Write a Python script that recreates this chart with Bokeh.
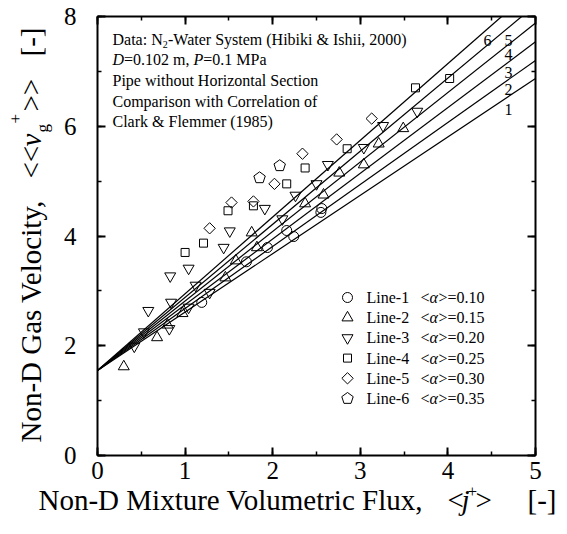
import math
from bokeh.plotting import figure
from bokeh.models import Range1d, SingleIntervalTicker, CustomJSTickFormatter, Label, LinearAxis
from bokeh.embed import file_html
from bokeh.resources import INLINE

# ---------------- data ----------------
line1_x = [1.19, 1.70, 1.94, 2.16, 2.24, 2.55, 2.56]
line1_y = [2.79, 3.53, 3.79, 4.10, 3.99, 4.43, 4.50]

line2_x = [0.30, 0.68, 0.80, 0.97, 1.46, 1.58, 1.76, 1.82, 2.37, 2.58, 2.76, 3.04, 3.21, 3.49]
line2_y = [1.62, 2.15, 2.38, 2.59, 3.24, 3.55, 4.06, 3.79, 4.59, 4.75, 5.15, 5.30, 5.68, 5.96]

line3_x = [0.42, 0.53, 0.58, 0.82, 0.84, 0.83, 1.04, 1.04, 1.12, 1.28, 1.44, 1.51, 1.91, 2.11,
           2.26, 2.50, 2.63, 3.04, 3.26, 3.65]
line3_y = [1.99, 2.25, 2.64, 2.31, 2.79, 3.27, 2.70, 3.41, 3.10, 2.97, 3.79, 4.09, 4.50, 4.31,
           4.74, 4.95, 5.30, 5.61, 6.01, 6.27]

line4_x = [1.00, 1.21, 1.49, 1.78, 2.16, 2.37, 2.85, 3.63, 4.02]
line4_y = [3.70, 3.87, 4.46, 4.55, 4.95, 5.24, 5.59, 6.70, 6.87]

line5_x = [1.28, 1.53, 1.78, 2.02, 2.34, 2.73, 3.13]
line5_y = [4.14, 4.61, 4.63, 4.95, 5.50, 5.76, 6.14]

line6_x = [1.85, 2.08]
line6_y = [5.06, 5.28]

# correlation lines (Clark & Flemmer): value at j+=0 and at j+=5
corr_y_start = 1.55
corr_y_end = [6.87, 7.20, 7.54, 7.88, 8.21, 8.54]
corr_labels = ["1", "2", "3", "4", "5", "6"]

legend_names = ["Line-1", "Line-2", "Line-3", "Line-4", "Line-5", "Line-6"]
legend_alpha = ["0.10", "0.15", "0.20", "0.25", "0.30", "0.35"]

x_lim = (0, 5)
y_lim = (0, 8)

FONT = "Liberation Serif"

# ---------------- geometry: plot box position on the canvas (pixels) ----------------
W, H = 567, 534
BOX_L, BOX_R, BOX_T, BOX_B = 97.0, 535.0, 16.0, 455.0
PXX = (BOX_R - BOX_L) / (x_lim[1] - x_lim[0])
PXY = (BOX_B - BOX_T) / (y_lim[1] - y_lim[0])

x_range = Range1d(x_lim[0] - BOX_L / PXX, x_lim[0] + (W - BOX_L) / PXX)
y_range = Range1d(y_lim[0] - (H - BOX_B) / PXY, y_lim[0] + BOX_B / PXY)

p = figure(width=W, height=H, x_range=x_range, y_range=y_range,
           output_backend="svg", toolbar_location=None, min_border=0)
p.xgrid.visible = False
p.ygrid.visible = False
p.outline_line_color = None
p.background_fill_color = "white"
p.border_fill_color = "white"


def style_axis(ax, show_labels, fixed, bounds, interval):
    ax.ticker = SingleIntervalTicker(interval=interval, num_minor_ticks=2)
    ax.fixed_location = fixed
    ax.bounds = bounds
    ax.axis_line_color = "black"
    ax.axis_line_width = 2
    ax.major_tick_in = 8
    ax.major_tick_out = 0
    ax.minor_tick_in = 4
    ax.minor_tick_out = 0
    ax.major_tick_line_width = 2
    ax.minor_tick_line_width = 1.5
    ax.major_tick_line_color = "black"
    ax.minor_tick_line_color = "black"
    if show_labels:
        ax.major_label_text_font = FONT
        ax.major_label_text_font_size = "25px"
        ax.major_label_text_color = "black"
    else:
        ax.formatter = CustomJSTickFormatter(code="return ''")
        ax.major_label_text_font_size = "0px"
        ax.major_label_standoff = 0


for ax in p.xaxis:
    style_axis(ax, True, y_lim[0], x_lim, 1)
    ax.major_label_standoff = 6
for ax in p.yaxis:
    style_axis(ax, True, x_lim[0], y_lim, 2)
    ax.major_label_standoff = 21

top_ax = LinearAxis()
style_axis(top_ax, False, y_lim[1], x_lim, 1)
p.add_layout(top_ax, "above")
right_ax = LinearAxis()
style_axis(right_ax, False, x_lim[1], y_lim, 2)
p.add_layout(right_ax, "right")

# ---------------- correlation lines (cut at the plot box) ----------------
for ye in corr_y_end:
    slope = (ye - corr_y_start) / (x_lim[1] - x_lim[0])
    x_end = min(x_lim[1], (y_lim[1] - corr_y_start) / slope)
    p.line([x_lim[0], x_end], [corr_y_start, corr_y_start + slope * x_end],
           line_color="black", line_width=1.2)

# ---------------- data points ----------------
mk = dict(fill_color=None, line_color="black", line_width=1)


def pentagons(xs, ys, r=6.0):
    pxs, pys = [], []
    for x, y in zip(xs, ys):
        angs = [math.radians(90 + 72 * k) for k in range(5)]
        pxs.append([x + r * math.cos(a) / PXX for a in angs])
        pys.append([y + r * math.sin(a) / PXY for a in angs])
    p.patches(pxs, pys, **mk)


p.scatter(line1_x, line1_y, marker="circle", size=10, **mk)
p.scatter(line2_x, line2_y, marker="triangle", size=11, **mk)
p.scatter(line3_x, line3_y, marker="inverted_triangle", size=11, **mk)
p.scatter(line4_x, line4_y, marker="square", size=8, **mk)
p.scatter(line5_x, line5_y, marker="square", size=8, angle=math.pi / 4, **mk)
pentagons(line6_x, line6_y)


# ---------------- helpers for text placement (canvas pixel -> data) ----------------
def dx(px):
    return x_lim[0] + (px - BOX_L) / PXX


def dy(py):
    return y_lim[0] + (BOX_B - py) / PXY


def lab(text, px, py, size="16px", style="normal", align="left", baseline="middle", angle=0.0):
    p.add_layout(Label(x=dx(px), y=dy(py), text=text, text_font=FONT, text_font_size=size,
                       text_font_style=style, text_align=align, text_baseline=baseline,
                       text_color="black", angle=angle))


# annotation block
rows_a = [38.5, 59, 79.5, 100.5, 121]
lab("Data: N", 112, rows_a[0])
lab("2", 162.3, rows_a[0] + 5, size="10px")
lab("-Water System (Hibiki & Ishii, 2000)", 167.5, rows_a[0])
lab("D", 112, rows_a[1], style="italic")
lab("=0.102 m, ", 123.6, rows_a[1])
lab("P", 193.0, rows_a[1], style="italic")
lab("=0.1 MPa", 202.8, rows_a[1])
lab("Pipe without Horizontal Section", 112, rows_a[2])
lab("Comparison with Correlation of", 112, rows_a[3])
lab("Clark & Flemmer (1985)", 112, rows_a[4])

# line labels
corr_label_pos = [(508, 109), (508, 89), (508, 72), (508, 54), (508, 40), (487, 40)]
for t, (px, py) in zip(corr_labels, corr_label_pos):
    lab(t, px, py, align="center")

# legend
rows = [297, 317.2, 337.4, 357.6, 377.8, 398]
for i, (name, a) in enumerate(zip(legend_names, legend_alpha)):
    mx, my = [dx(347)], [dy(rows[i])]
    if i == 0:
        p.scatter(mx, my, marker="circle", size=10, **mk)
    elif i == 1:
        p.scatter(mx, my, marker="triangle", size=11, **mk)
    elif i == 2:
        p.scatter(mx, my, marker="inverted_triangle", size=11, **mk)
    elif i == 3:
        p.scatter(mx, my, marker="square", size=8, **mk)
    elif i == 4:
        p.scatter(mx, my, marker="square", size=8, angle=math.pi / 4, **mk)
    else:
        pentagons(mx, my)
    lab(name, 366, rows[i])
    lab("<", 420, rows[i])
    lab("\u03b1", 429, rows[i], style="italic")
    lab(">=" + a, 438, rows[i])

# x axis title
XT = 499
lab("Non-D Mixture Volumetric Flux,", 38, XT, size="29px")
lab("<", 447, XT, size="29px")
lab("j", 461, XT, size="29px", style="italic")
lab("+", 467, XT - 8, size="17px")
lab(">", 475, XT, size="29px")
lab("[-]", 527, XT, size="29px")

# y axis title (rotated)
R = math.pi / 2
YT = 30
lab("Non-D Gas Velocity,", YT, 442, size="29px", angle=R)
lab("<<", YT, 178, size="29px", angle=R)
lab("v", YT, 146, size="29px", style="italic", angle=R)
lab("g", YT + 12, 132, size="17px", angle=R)
lab("+", YT - 15, 123, size="17px", angle=R)
lab(">>", YT, 111, size="29px", angle=R)
lab("[-]", YT, 56, size="29px", angle=R)

open("out.html", "w").write(file_html(p, INLINE))
